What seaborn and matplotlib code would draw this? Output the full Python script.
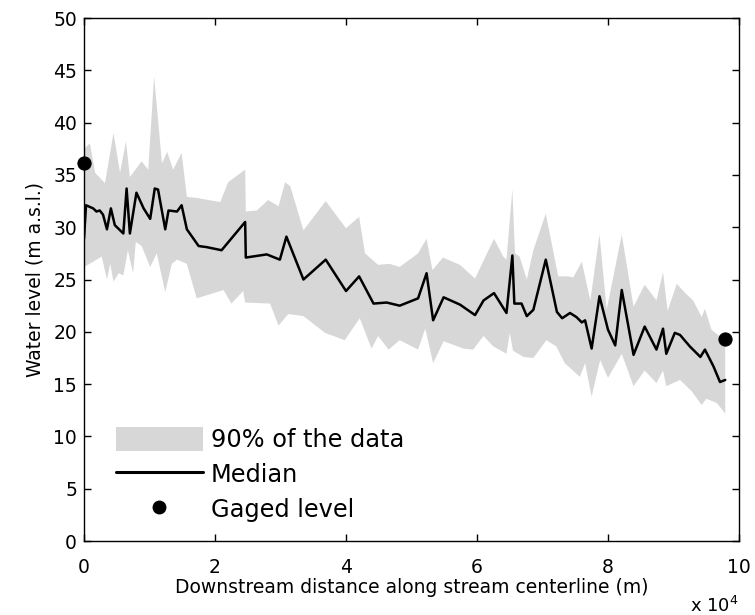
import numpy as np
import pandas as pd
import matplotlib
matplotlib.use('Agg')
import matplotlib.pyplot as plt
import seaborn as sns

# distance along the stream in units of 10^4 m, levels in m a.s.l.
median_x = [0.00, 0.03, 0.14, 0.19, 0.24, 0.29, 0.35, 0.41, 0.47, 0.60, 0.65, 0.70,
            0.80, 0.91, 1.01, 1.08, 1.13, 1.24, 1.29, 1.42, 1.49, 1.57, 1.75, 1.87,
            2.10, 2.46, 2.47, 2.79, 2.99, 3.09, 3.35, 3.69, 4.00, 4.20, 4.42, 4.62,
            4.82, 5.10, 5.23, 5.33, 5.49, 5.74, 5.97, 6.10, 6.26, 6.45, 6.54, 6.57,
            6.68, 6.76, 6.86, 7.05, 7.22, 7.30, 7.42, 7.52, 7.60, 7.65, 7.75, 7.87,
            8.00, 8.11, 8.21, 8.39, 8.56, 8.74, 8.84, 8.89, 9.02, 9.10, 9.25, 9.41,
            9.48, 9.61, 9.71, 9.79]
median_y = [28.9, 32.1, 31.8, 31.5, 31.6, 31.2, 29.8, 31.8, 30.2, 29.4, 33.7, 29.4,
            33.3, 31.8, 30.8, 33.7, 33.6, 29.8, 31.6, 31.5, 32.1, 29.8, 28.2, 28.1,
            27.8, 30.5, 27.1, 27.4, 26.9, 29.1, 25.0, 26.9, 23.9, 25.3, 22.7, 22.8,
            22.5, 23.2, 25.6, 21.1, 23.3, 22.6, 21.6, 23.0, 23.7, 21.8, 27.3, 22.7,
            22.7, 21.5, 22.1, 26.9, 21.9, 21.3, 21.8, 21.4, 20.9, 21.1, 18.4, 23.4,
            20.2, 18.7, 24.0, 17.8, 20.5, 18.3, 20.3, 17.9, 19.9, 19.7, 18.6, 17.6,
            18.3, 16.7, 15.2, 15.4]

upper_x = [0.00, 0.09, 0.17, 0.32, 0.45, 0.55, 0.64, 0.70, 0.88, 0.98, 1.07, 1.19,
           1.27, 1.36, 1.49, 1.57, 1.72, 2.08, 2.20, 2.46, 2.47, 2.64, 2.81, 2.97,
           3.07, 3.15, 3.35, 3.69, 4.00, 4.20, 4.29, 4.49, 4.66, 4.82, 5.10, 5.23,
           5.32, 5.48, 5.74, 5.97, 6.26, 6.40, 6.45, 6.54, 6.58, 6.65, 6.76, 6.86,
           7.05, 7.24, 7.39, 7.47, 7.60, 7.73, 7.87, 7.98, 8.21, 8.39, 8.56, 8.74,
           8.84, 8.91, 9.05, 9.18, 9.30, 9.43, 9.48, 9.58, 9.70, 9.79]
upper_y = [37.5, 38.0, 35.2, 34.2, 39.0, 35.2, 38.2, 34.8, 36.3, 35.5, 44.4, 36.1,
           37.2, 35.5, 37.1, 32.9, 32.8, 32.4, 34.3, 35.5, 31.5, 31.6, 32.6, 32.0,
           34.3, 33.9, 29.7, 32.5, 29.9, 31.0, 27.5, 26.4, 26.5, 26.2, 27.5, 28.9,
           25.9, 27.1, 26.4, 25.1, 28.9, 27.2, 26.9, 33.6, 27.5, 27.2, 25.0, 27.8,
           31.3, 25.3, 25.3, 25.2, 26.7, 23.0, 29.3, 22.1, 29.3, 22.4, 24.5, 23.0,
           25.7, 22.0, 24.6, 23.7, 23.0, 21.4, 22.2, 20.2, 19.6, 19.0]

lower_x = [0.00, 0.14, 0.27, 0.35, 0.40, 0.45, 0.53, 0.60, 0.67, 0.75, 0.79, 0.88,
           1.01, 1.11, 1.24, 1.34, 1.42, 1.57, 1.72, 2.13, 2.25, 2.43, 2.46, 2.84,
           2.97, 3.12, 3.35, 3.68, 3.98, 4.21, 4.39, 4.49, 4.65, 4.82, 5.10, 5.21,
           5.33, 5.49, 5.79, 5.94, 6.10, 6.25, 6.45, 6.50, 6.55, 6.71, 6.86, 7.06,
           7.21, 7.34, 7.57, 7.65, 7.75, 7.88, 8.00, 8.21, 8.39, 8.56, 8.74, 8.84,
           8.89, 9.10, 9.28, 9.43, 9.50, 9.66, 9.79]
lower_y = [26.2, 26.7, 27.2, 25.0, 26.5, 24.8, 25.6, 25.4, 27.8, 25.6, 28.6, 28.2,
           26.2, 27.5, 23.8, 26.5, 26.9, 26.5, 23.2, 24.0, 22.7, 23.9, 22.8, 22.7,
           20.6, 21.7, 21.5, 19.9, 19.2, 21.3, 18.4, 19.6, 18.3, 19.2, 18.3, 20.3,
           17.0, 19.1, 18.4, 18.3, 19.6, 18.6, 17.9, 19.9, 18.2, 17.6, 17.5, 19.2,
           18.6, 17.0, 15.7, 17.0, 13.8, 17.3, 15.6, 17.9, 14.8, 16.3, 15.1, 16.3,
           14.8, 15.4, 14.3, 13.0, 13.6, 13.2, 12.2]

gaged_x = [0.00, 9.79]
gaged_y = [36.1, 19.3]

x_ticks = [0, 2, 4, 6, 8, 10]
y_ticks = [0, 5, 10, 15, 20, 25, 30, 35, 40, 45, 50]

sns.set_theme(style='ticks')
plt.rcParams['font.family'] = ['DejaVu Sans']
plt.rcParams['axes.edgecolor'] = 'black'
plt.rcParams['axes.labelcolor'] = 'black'
plt.rcParams['text.color'] = 'black'
plt.rcParams['xtick.color'] = 'black'
plt.rcParams['ytick.color'] = 'black'

fig = plt.figure(figsize=(7.55, 6.15), dpi=100)
ax = fig.add_axes([0.1113, 0.1203, 0.8675, 0.8504])

# 90% band as one closed polygon: upper edge left->right, lower edge right->left
band_x = upper_x + lower_x[::-1]
band_y = upper_y + lower_y[::-1]
band = ax.fill(band_x, band_y, color='#d7d7d7', lw=0, zorder=1,
               label='90% of the data')[0]

med = pd.DataFrame({'x': median_x, 'y': median_y})
sns.lineplot(data=med, x='x', y='y', color='black', lw=1.8, sort=False,
             estimator=None, ax=ax, zorder=3, legend=False)
gag = pd.DataFrame({'x': gaged_x, 'y': gaged_y})
sns.scatterplot(data=gag, x='x', y='y', color='black', s=90, edgecolor='black',
                ax=ax, zorder=5, clip_on=False, legend=False)

ax.set_xlim(0, 10)
ax.set_ylim(0, 50)
ax.set_xticks(x_ticks)
ax.set_yticks(y_ticks)
ax.tick_params(direction='in', top=True, right=True, length=5, width=1,
               labelsize=13.5)
ax.tick_params(axis='x', pad=12)
ax.tick_params(axis='y', pad=5)
for s in ax.spines.values():
    s.set_linewidth(1.0)

ax.set_xlabel('Downstream distance along stream centerline (m)', fontsize=13.5,
              labelpad=1)
ax.set_ylabel('Water level (m a.s.l.)', fontsize=13.5, labelpad=6)
fig.text(0.978, 0.014, r'x 10$^{4}$', ha='right', va='center', fontsize=13)

line_h = plt.Line2D([], [], color='black', lw=2.2)
dot_h = plt.Line2D([], [], color='black', marker='o', ls='none', markersize=9)
ax.legend([band, line_h, dot_h], ['90% of the data', 'Median', 'Gaged level'],
          loc='lower left', bbox_to_anchor=(0.049, 0.036), frameon=False,
          fontsize=17.3, borderpad=0, borderaxespad=0, handlelength=3.6,
          handleheight=1.15, handletextpad=0.35, labelspacing=0.42)

plt.savefig('out.png', dpi=100)
